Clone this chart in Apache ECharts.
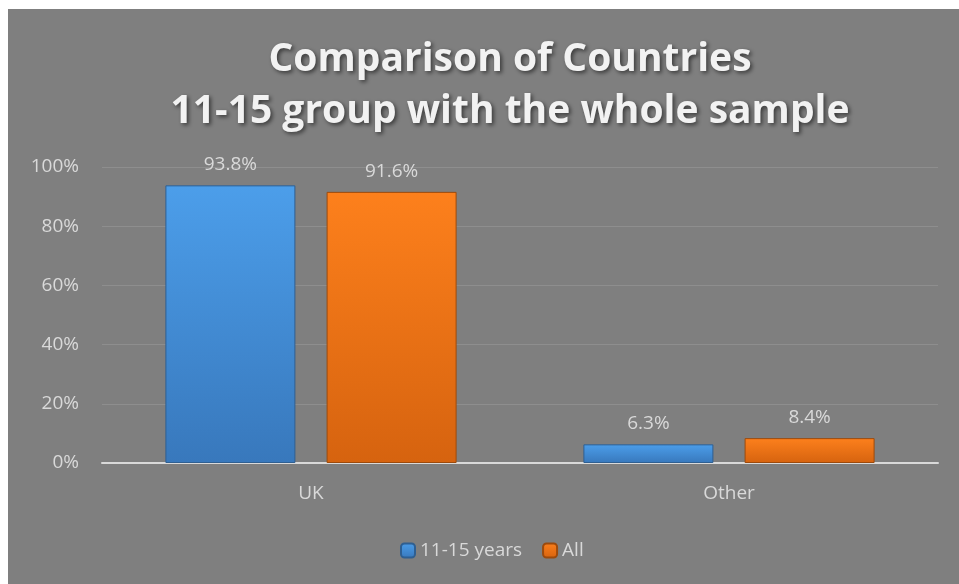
<!DOCTYPE html>
<html>
<head>
<meta charset="utf-8">
<title>Comparison of Countries</title>
<script src="https://cdn.jsdelivr.net/npm/echarts@6/dist/echarts.min.js"></script>
<style>
    html, body { margin: 0; padding: 0; background: #fff; }
    #main { position: absolute; left: 8px; top: 9px; width: 951px; height: 575px; }
</style>
</head>
<body>
<div id="main"></div>
<script>
// 数据
var categories = ['UK', 'Other'];
var youngValues = [93.8, 6.3];   // 11-15 years
var allValues = [91.6, 8.4];     // All
var seriesNames = ['11-15 years', 'All'];
var yTicks = [0, 20, 40, 60, 80, 100];

var labelColor = '#d9d9d9';
var fontName = 'Open Sans';

function barColor(top, bottom) {
    return new echarts.graphic.LinearGradient(0, 0, 0, 1, [
        {offset: 0, color: top},
        {offset: 1, color: bottom}
    ]);
}

var myChart = echarts.init(document.getElementById('main'));
var option = {
    backgroundColor: '#7f7f7f',
    animation: false,
    title: {
        text: 'Comparison of Countries\n11-15 group with the whole sample',
        left: 497,
        top: 20,
        textAlign: 'center',
        textStyle: {
            fontFamily: fontName,
            fontWeight: 'bold',
            fontSize: 39,
            lineHeight: 52,
            color: '#f2f2f2',
            textShadowColor: 'rgba(0,0,0,0.55)',
            textShadowBlur: 4,
            textShadowOffsetX: 2,
            textShadowOffsetY: 2
        }
    },
    legend: {
        data: seriesNames,
        left: 387,
        top: 527,
        itemWidth: 14,
        itemHeight: 14,
        itemGap: 20,
        textStyle: { color: labelColor, fontSize: 19, fontFamily: fontName }
    },
    grid: { left: 94, right: 21, top: 158, bottom: 121 },
    xAxis: {
        type: 'category',
        data: categories,
        axisLine: { lineStyle: { color: '#d9d9d9', width: 2 } },
        axisTick: { show: false },
        axisLabel: { color: labelColor, fontSize: 19, margin: 21, fontFamily: fontName }
    },
    yAxis: {
        type: 'value',
        min: yTicks[0],
        max: yTicks[yTicks.length - 1],
        interval: 20,
        axisLine: { show: false },
        axisTick: { show: false },
        splitLine: { lineStyle: { color: '#8e8e8e', width: 1 } },
        axisLabel: {
            color: labelColor,
            fontSize: 19,
            margin: 23,
            fontFamily: fontName,
            formatter: function (v) { return v + '%'; }
        }
    },
    series: [
        {
            name: seriesNames[0],
            type: 'bar',
            data: youngValues,
            barWidth: 130,
            barGap: '24%',
            itemStyle: {
                color: barColor('#4c9eea', '#3878bc'),
                borderColor: '#2f5f91',
                borderWidth: 1
            },
            label: {
                show: true, position: 'top', distance: 11,
                color: labelColor, fontSize: 19, fontFamily: fontName,
                formatter: function (p) { return p.value.toFixed(1) + '%'; }
            }
        },
        {
            name: seriesNames[1],
            type: 'bar',
            data: allValues,
            barWidth: 130,
            itemStyle: {
                color: barColor('#fd801c', '#d6630f'),
                borderColor: '#9c4a0c',
                borderWidth: 1
            },
            label: {
                show: true, position: 'top', distance: 11,
                color: labelColor, fontSize: 19, fontFamily: fontName,
                formatter: function (p) { return p.value.toFixed(1) + '%'; }
            }
        }
    ]
};
// 使用刚指定的配置项和数据显示图表。
myChart.setOption(option);
</script>
</body>
</html>
